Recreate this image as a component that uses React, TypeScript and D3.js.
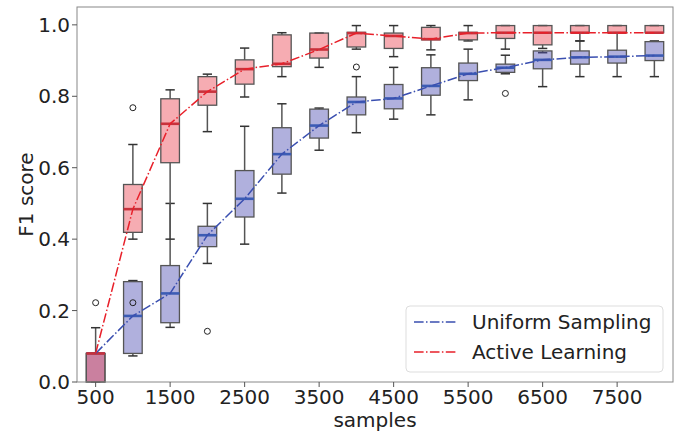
import React from "react";
import * as d3 from "d3";

const categories = [500, 1000, 1500, 2000, 2500, 3000, 3500, 4000, 4500, 5000, 5500, 6000, 6500, 7000, 7500, 8000];
const xTickLabels = [500, 1500, 2500, 3500, 4500, 5500, 6500, 7500];
const yTicks = [0, 0.2, 0.4, 0.6, 0.8, 1.0];

// Uniform Sampling
const uniLo = [0, 0.073, 0.153, 0.332, 0.386, 0.529, 0.649, 0.698, 0.736, 0.748, 0.79, 0.863, 0.827, 0.855, 0.855, 0.855];
const uniQ1 = [0, 0.08, 0.166, 0.379, 0.462, 0.582, 0.683, 0.748, 0.765, 0.803, 0.844, 0.867, 0.877, 0.89, 0.893, 0.9];
const uniMed = [0.08, 0.185, 0.248, 0.411, 0.513, 0.638, 0.718, 0.784, 0.794, 0.829, 0.863, 0.88, 0.902, 0.909, 0.911, 0.914];
const uniQ3 = [0.08, 0.281, 0.326, 0.436, 0.592, 0.712, 0.764, 0.798, 0.833, 0.88, 0.893, 0.89, 0.927, 0.927, 0.929, 0.953];
const uniHi = [0.152, 0.284, 0.5, 0.5, 0.716, 0.779, 0.767, 0.855, 0.881, 0.916, 0.932, 0.915, 0.922, 0.955, 0.978, 0.955];
const uniOutliers: number[][] = [[0.222], [], [], [0.142], [], [], [], [], [], [], [], [0.808], [], [], [], []];

// Active Learning
const actLo = [0, 0.4, 0.4, 0.701, 0.798, 0.855, 0.881, 0.932, 0.911, 0.93, 0.955, 0.932, 0.934, 0.955, 0.978, 0.978];
const actQ1 = [0, 0.419, 0.614, 0.775, 0.834, 0.883, 0.907, 0.938, 0.934, 0.958, 0.958, 0.962, 0.944, 0.978, 0.978, 0.978];
const actMed = [0.08, 0.484, 0.723, 0.813, 0.876, 0.891, 0.931, 0.977, 0.969, 0.96, 0.977, 0.978, 0.978, 0.978, 0.978, 0.978];
const actQ3 = [0.08, 0.553, 0.793, 0.855, 0.902, 0.972, 0.977, 0.979, 0.977, 0.993, 0.979, 0.998, 0.998, 0.998, 0.998, 0.998];
const actHi = [0.08, 0.665, 0.818, 0.862, 0.935, 0.978, 0.977, 0.998, 0.998, 0.998, 0.998, 0.998, 0.998, 0.998, 0.998, 0.998];
const actOutliers: number[][] = [[], [0.768, 0.222], [], [], [], [], [], [0.882], [], [], [], [], [], [], [], []];

const W = 681;
const H = 434;
const L = 77, R = 673, T = 7, B = 382;
const FONT = "DejaVu Sans, sans-serif";
const DASH = "9.6,2.4,1.5,2.4";

type Series = {
  lo: number[]; q1: number[]; med: number[]; q3: number[]; hi: number[]; out: number[][];
  fill: string; median: string; line: string;
};

const uniform: Series = {
  lo: uniLo, q1: uniQ1, med: uniMed, q3: uniQ3, hi: uniHi, out: uniOutliers,
  fill: "rgba(80,80,180,0.45)", median: "#3c5cb4", line: "#3a4fb0",
};
const active: Series = {
  lo: actLo, q1: actQ1, med: actMed, q3: actQ3, hi: actHi, out: actOutliers,
  fill: "rgba(235,70,85,0.45)", median: "#c8323c", line: "#e8202a",
};

export default function App() {
  const x = d3.scaleBand<number>().domain(categories).range([L, R]);
  const y = d3.scaleLinear().domain([0, 1.05]).range([B, T]);
  const bw = x.bandwidth();
  const boxW = bw * 0.5;
  const capW = boxW * 0.5;
  const cx = (c: number) => (x(c) as number) + bw / 2;

  const renderBoxes = (s: Series, key: string) =>
    categories.map((c, i) => {
      const xc = cx(c);
      return (
        <g key={key + i}>
          <line x1={xc} x2={xc} y1={y(s.q3[i])} y2={y(s.hi[i])} stroke="#555" strokeWidth={1.5} />
          <line x1={xc} x2={xc} y1={y(s.q1[i])} y2={y(s.lo[i])} stroke="#555" strokeWidth={1.5} />
          <line x1={xc - capW / 2} x2={xc + capW / 2} y1={y(s.hi[i])} y2={y(s.hi[i])} stroke="#333" strokeWidth={1.5} />
          <line x1={xc - capW / 2} x2={xc + capW / 2} y1={y(s.lo[i])} y2={y(s.lo[i])} stroke="#333" strokeWidth={1.5} />
          <rect x={xc - boxW / 2} width={boxW} y={y(s.q3[i])} height={Math.max(0, y(s.q1[i]) - y(s.q3[i]))}
            fill={s.fill} stroke="#555" strokeWidth={1.3} />
          <line x1={xc - boxW / 2} x2={xc + boxW / 2} y1={y(s.med[i])} y2={y(s.med[i])} stroke={s.median} strokeWidth={2.6} />
          {s.out[i].map((o, j) => (
            <circle key={j} cx={xc} cy={y(o)} r={3} fill="none" stroke="#222" strokeWidth={1} />
          ))}
        </g>
      );
    });

  const lineGen = (s: Series) =>
    d3.line<number>().x((c) => cx(c)).y((_, i) => y(s.med[i]))(categories) || "";

  return (
    <svg width={W} height={H} style={{ position: "absolute", left: 0, top: 0, fontFamily: FONT }}>
      <rect x={0} y={0} width={W} height={H} fill="#fff" />
      {renderBoxes(uniform, "u")}
      {renderBoxes(active, "a")}
      <path d={lineGen(uniform)} fill="none" stroke={uniform.line} strokeWidth={1.5} strokeDasharray={DASH} />
      <path d={lineGen(active)} fill="none" stroke={active.line} strokeWidth={1.5} strokeDasharray={DASH} />

      {/* frame */}
      <rect x={L} y={T} width={R - L} height={B - T} fill="none" stroke="#888" strokeWidth={1} />

      {/* y axis */}
      {yTicks.map((t) => (
        <g key={"y" + t}>
          <line x1={L - 5} x2={L} y1={y(t)} y2={y(t)} stroke="#555" strokeWidth={1} />
          <text x={L - 7} y={y(t)} dy="0.36em" textAnchor="end" fontSize={20} fill="#222">
            {d3.format(".1f")(t)}
          </text>
        </g>
      ))}
      <text transform={`translate(33,${(T + B) / 2}) rotate(-90)`} textAnchor="middle" fontSize={20} fill="#222">
        F1 score
      </text>

      {/* x axis */}
      {xTickLabels.map((t) => (
        <g key={"x" + t}>
          <line x1={cx(t)} x2={cx(t)} y1={B} y2={B + 5} stroke="#555" strokeWidth={1} />
          <text x={cx(t)} y={B + 22} textAnchor="middle" fontSize={20} fill="#222">
            {t}
          </text>
        </g>
      ))}
      <text x={(L + R) / 2} y={427} textAnchor="middle" fontSize={20} fill="#222">
        samples
      </text>

      {/* legend */}
      <rect x={406} y={306} width={257} height={66} rx={4} fill="rgba(255,255,255,0.8)" stroke="#ddd" strokeWidth={1} />
      <line x1={414} x2={456} y1={322} y2={322} stroke={uniform.line} strokeWidth={1.5} strokeDasharray={DASH} />
      <text x={472} y={322} dy="0.36em" fontSize={20} fill="#222">Uniform Sampling</text>
      <line x1={414} x2={456} y1={352} y2={352} stroke={active.line} strokeWidth={1.5} strokeDasharray={DASH} />
      <text x={472} y={352} dy="0.36em" fontSize={20} fill="#222">Active Learning</text>
    </svg>
  );
}
